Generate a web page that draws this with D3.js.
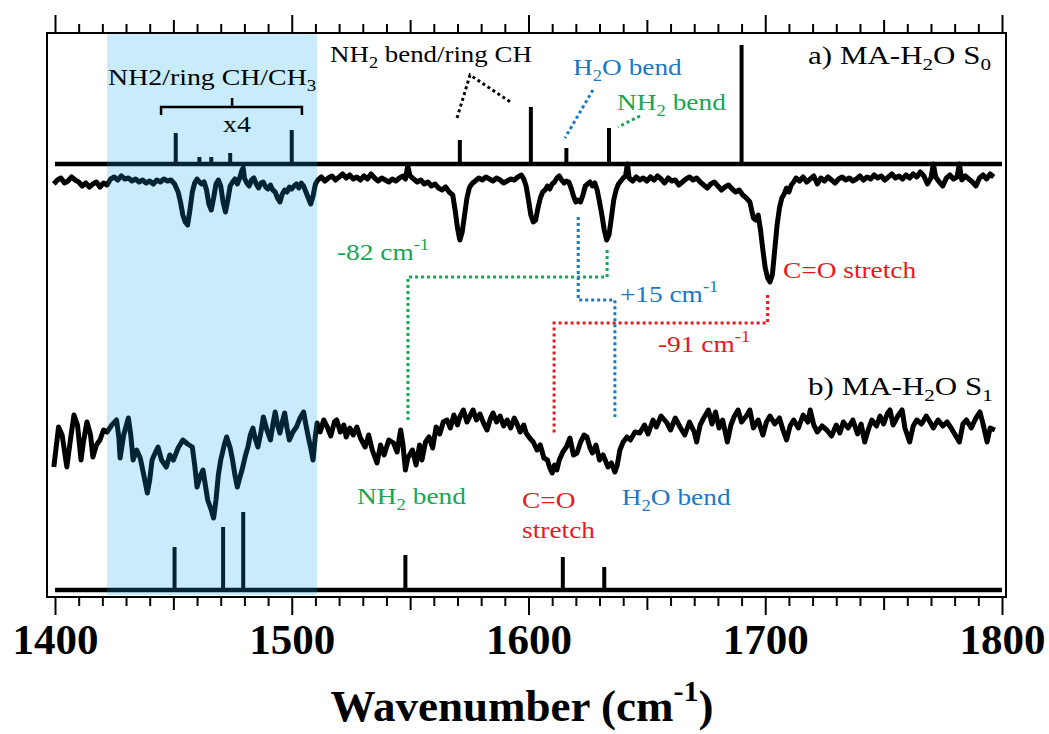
<!DOCTYPE html>
<html>
<head>
<meta charset="utf-8">
<style>
  body { margin: 0; background: #fff; }
  svg { display: block; }
</style>
<script src="https://cdn.jsdelivr.net/npm/d3@7"></script>
</head>
<body>
<div id="chart"></div>
<script>
// wavenumber ticks
var minorTicks = d3.range(1400, 1801, 10);
var tickLabels = [1400, 1500, 1600, 1700, 1800];

// calculated stick spectra [wavenumber, intensity]
var sticksS0 = [[1451,31],[1461,7],[1466,7],[1474,11],[1500,34],[1571,24],[1601,57],[1616,16],[1634,36],[1690,119]];
var sticksS1 = [[1450.5,43],[1457,2],[1471,63],[1479.5,78],[1548,35],[1614.5,33],[1632,23]];

// measured S0 spectrum (relative signal)
var traceS0 = [[1399.5,-4],[1401,0],[1402.5,2],[1404,-3],[1405.5,-1],[1407,3],[1408.5,0],[1410,-2],[1411.5,-6],[1413,-3],[1414.5,-7],[1416,-4],[1417.5,-2],[1419,-7],[1420.5,-3],[1422,-5],[1423.5,1],[1425,3],[1426.5,0],[1428,4],[1429.5,1],[1431,2],[1432.5,-1],[1434,1],[1435.5,-2],[1437,0],[1438.5,-3],[1440,-1],[1441.5,-4],[1443,0],[1444.5,-2],[1446,1],[1447.5,-1],[1449,0],[1450.5,-4],[1452,-12],[1453,-22],[1454,-35],[1455,-42],[1456,-45],[1457,-30],[1458,-12],[1459,-3],[1460,1],[1461,-2],[1462,-4],[1463,-2],[1464,-10],[1465,-24],[1466,-30],[1467,-18],[1468,-4],[1469,0],[1470,-6],[1471,-22],[1472,-32],[1473,-20],[1474,-6],[1475,-2],[1476,1],[1477,-4],[1478,2],[1479,10],[1479.5,12],[1480,2],[1481,-3],[1482,-6],[1483,0],[1484,2],[1485,-4],[1486,-8],[1487,-3],[1488,-2],[1489,-7],[1490,-9],[1491,-5],[1492,-10],[1493,-12],[1494,-18],[1495,-22],[1496,-14],[1497,-10],[1498,-12],[1499,-7],[1500,-9],[1501,-6],[1502,-4],[1503,-8],[1504,-3],[1505,-6],[1506,-12],[1507,-18],[1508,-24],[1509,-16],[1510,-4],[1511,0],[1512.5,3],[1514,-1],[1515.5,2],[1517,4],[1518.5,0],[1520,3],[1521.5,6],[1523,2],[1524.5,5],[1526,1],[1527.5,3],[1529,0],[1530.5,4],[1532,1],[1533.5,6],[1535,2],[1536.5,-1],[1538,2],[1539.5,0],[1541,-2],[1542.5,1],[1544,-1],[1545.5,2],[1547,4],[1548,1],[1549,14],[1550,4],[1551.5,1],[1553,-2],[1554.5,0],[1556,-4],[1557.5,-2],[1559,-6],[1560.5,-4],[1562,-8],[1563.5,-10],[1565,-7],[1566.5,-12],[1568,-15],[1569,-30],[1570,-48],[1571,-60],[1572,-52],[1573,-35],[1574,-18],[1575,-8],[1576,-4],[1577.5,-1],[1579,2],[1580.5,0],[1582,3],[1583.5,1],[1585,-1],[1586.5,2],[1588,0],[1589.5,-3],[1591,-1],[1592.5,1],[1594,0],[1595.5,3],[1597,5],[1598,1],[1599,-6],[1600,-20],[1601,-35],[1602,-42],[1603,-40],[1604,-28],[1605,-18],[1606,-12],[1607,-10],[1608,-6],[1609,-9],[1610,-4],[1611,-2],[1612,2],[1613,4],[1614,0],[1615,-3],[1616,-1],[1617,-2],[1618,-8],[1619,-16],[1620,-22],[1621,-20],[1622,-22],[1623,-15],[1624,-6],[1625,-4],[1626,-2],[1627,-6],[1628,-3],[1629,-10],[1630,-22],[1631,-35],[1632,-50],[1633,-60],[1634,-55],[1635,-38],[1636,-20],[1637,-10],[1638,-4],[1639,-1],[1640,2],[1641,4],[1641.8,16],[1642.5,2],[1644,-1],[1645.5,3],[1647,0],[1648.5,2],[1650,-1],[1651.5,3],[1653,0],[1654.5,4],[1656,1],[1657.5,-3],[1659,2],[1660.5,-1],[1662,0],[1663.5,-5],[1665,-2],[1666.5,1],[1668,3],[1669.5,0],[1671,2],[1672.5,-2],[1674,-5],[1675.5,-8],[1677,-4],[1678.5,-2],[1680,-6],[1681.5,-10],[1683,-7],[1684.5,-5],[1686,-9],[1687.5,-12],[1689,-10],[1690.5,-15],[1692,-18],[1693.5,-22],[1695,-38],[1696,-40],[1697,-35],[1698,-50],[1699,-70],[1700,-88],[1701,-98],[1702,-102],[1703,-95],[1704,-70],[1705,-45],[1706,-28],[1707,-18],[1708,-14],[1709,-8],[1710,-12],[1711,-5],[1712,-2],[1713,2],[1714.5,-1],[1716,3],[1717.5,-2],[1719,1],[1720.5,4],[1722,-4],[1723.5,2],[1725,-1],[1726.5,3],[1728,0],[1729.5,-3],[1731,1],[1732.5,3],[1734,0],[1735.5,2],[1737,-1],[1738.5,1],[1740,4],[1741.5,0],[1743,3],[1744.5,1],[1746,5],[1747.5,2],[1749,4],[1750.5,0],[1752,3],[1753.5,6],[1755,2],[1756.5,4],[1758,1],[1759.5,5],[1761,2],[1762.5,6],[1764,3],[1765.5,8],[1767,4],[1768.5,-4],[1770,2],[1771,16],[1772,3],[1773.5,-2],[1775,-6],[1776.5,2],[1778,5],[1779.5,1],[1781,3],[1782,16],[1783,0],[1784.5,4],[1786,1],[1787.5,-2],[1789,-6],[1790.5,2],[1792,5],[1793.5,1],[1795,6],[1796.5,3]];

// measured S1 spectrum (relative signal)
var traceS1 = [[1399.5,-37],[1401.5,3],[1403,-5],[1405,-37],[1406.5,-10],[1408,15],[1409.5,5],[1411,-30],[1412,-12],[1413.5,8],[1415,-5],[1416,-27],[1417.5,-15],[1419,-10],[1420.5,0],[1422,-2],[1424,5],[1426,10],[1427,-8],[1427.5,-28],[1429,-5],[1431,12],[1432,-5],[1433,-30],[1434.5,-20],[1436,-28],[1437.5,-45],[1439,-63],[1440,-50],[1441,-30],[1442.5,-22],[1443.5,-17],[1445,-30],[1447,-37],[1448.5,-25],[1450,-30],[1452,-18],[1454,-10],[1456,-14],[1458,-17],[1459,-35],[1460,-57],[1461.5,-45],[1462.5,-40],[1463.5,-55],[1464.5,-70],[1466,-80],[1467,-88],[1468,-70],[1469,-45],[1470,-30],[1471.5,-15],[1472.5,-7],[1474,-18],[1475,-30],[1476,-45],[1477,-57],[1478,-48],[1479,-40],[1480.5,-25],[1481.5,-17],[1482.5,-5],[1483.6,2],[1484.5,-8],[1485.7,-17],[1487,-2],[1488,13],[1489.5,0],[1491,-10],[1492,5],[1493,18],[1494,5],[1495,-3],[1496,8],[1497,17],[1498,2],[1499,-10],[1500.5,-2],[1502,3],[1503.5,12],[1505,18],[1506,5],[1507,-7],[1508,-18],[1509,-30],[1510,-5],[1510.7,7],[1512,-2],[1513.5,10],[1515,3],[1516.5,-6],[1518,8],[1519,10],[1520.5,-2],[1522,5],[1523,-7],[1524.5,2],[1526,-5],[1527.5,3],[1529,-8],[1531,-17],[1532.5,-5],[1534,-20],[1536,-33],[1537.5,-15],[1539,-25],[1541,-10],[1543,-13],[1544.5,-22],[1546,0],[1547,-15],[1548,-40],[1549,-28],[1551,-20],[1552.5,-35],[1554,-15],[1555,-30],[1556.5,-12],[1558,-7],[1559.5,-18],[1561,3],[1562.5,-4],[1564,8],[1565.6,10],[1567,2],[1568.5,15],[1570,5],[1571,13],[1572.5,20],[1574,8],[1575.5,15],[1576.6,20],[1578,10],[1579.5,16],[1581,7],[1582.5,0],[1584,12],[1585,17],[1586.5,8],[1588,14],[1589.5,4],[1591,10],[1592.5,2],[1594,12],[1595,7],[1596.5,-2],[1598,5],[1599,-3],[1600.5,-8],[1602,-12],[1603.6,-20],[1605,-15],[1606.5,-28],[1608,-30],[1609,-38],[1610,-43],[1611,-35],[1612,-40],[1613,-30],[1614.5,-22],[1616,-17],[1617.5,-8],[1619,-25],[1620.5,-23],[1622,-12],[1623.5,-5],[1624.7,-7],[1626,-18],[1627,-23],[1628.5,-15],[1630,-30],[1631.5,-25],[1633.6,-37],[1635,-33],[1636.5,-42],[1637.5,-35],[1638.6,-20],[1640,-12],[1641.6,-7],[1643,-10],[1645,-2],[1647,-3],[1649,5],[1650.5,-4],[1652.6,10],[1654,3],[1656,14],[1658.5,7],[1660,0],[1662,12],[1664,3],[1666,-5],[1668,8],[1670,-2],[1671,-12],[1672.5,5],[1674,12],[1676,20],[1677.5,6],[1679,18],[1680.5,2],[1682,10],[1684,-12],[1685.5,5],[1687,14],[1688.5,20],[1690,8],[1692,14],[1693.5,20],[1695,2],[1697,10],[1699,-5],[1700.5,8],[1702,14],[1704,6],[1706,12],[1707.5,0],[1709,-10],[1710.5,4],[1712,10],[1714,2],[1716,15],[1718,8],[1719,20],[1720.5,5],[1722,-2],[1724,4],[1726,0],[1728,-6],[1730,5],[1731.5,-3],[1733,8],[1735,2],[1737,10],[1739,-4],[1740.5,6],[1742,-12],[1743.5,0],[1745,10],[1747,4],[1748.5,14],[1750,6],[1751.5,16],[1752.7,20],[1754,5],[1756,14],[1757.8,20],[1759,2],[1761,-12],[1762.5,4],[1764,10],[1766,6],[1768,14],[1769.6,8],[1771,2],[1773,10],[1775,4],[1776.8,8],[1778.5,2],[1780,-4],[1782,-12],[1783.5,6],[1785,10],[1787,2],[1789,12],[1790.7,18],[1792,6],[1793.7,-12],[1795,2],[1797,0]];

// vertical offsets of each stacked spectrum
var offsetSticksS0 = 433, offsetTraceS0 = 417, offsetTraceS1 = 167, offsetSticksS1 = 7;

// highlighted region
var bandRange = [1422, 1510.7];

var W = 1049, H = 734;
var serif = "'Liberation Serif', 'Times New Roman', serif";
var green = "#17a653", blue = "#1b78c4", red = "#e8191f";

var svg = d3.select("#chart").append("svg")
    .attr("width", W)
    .attr("height", H);

var x = d3.scaleLinear().domain([1400, 1800]).range([55, 1002]);
var y = d3.scaleLinear().domain([0, 564]).range([597, 33]);

var line = d3.line()
    .x(function(d) { return x(d[0]); });

// stick spectra
function drawSticks(data, off) {
  svg.append("line")
      .attr("x1", x(1400)).attr("x2", x(1800))
      .attr("y1", y(off)).attr("y2", y(off))
      .attr("stroke", "#000").attr("stroke-width", 4.5);
  svg.append("g").selectAll("line")
    .data(data)
    .enter().append("line")
      .attr("x1", function(d) { return x(d[0]); })
      .attr("x2", function(d) { return x(d[0]); })
      .attr("y1", y(off))
      .attr("y2", function(d) { return y(off + d[1]); })
      .attr("stroke", "#000")
      .attr("stroke-width", 4);
}
drawSticks(sticksS0, offsetSticksS0);
drawSticks(sticksS1, offsetSticksS1);

// measured traces
function drawTrace(data, off) {
  svg.append("path")
      .datum(data)
      .attr("fill", "none")
      .attr("stroke", "#000")
      .attr("stroke-width", 5)
      .attr("stroke-linejoin", "round")
      .attr("d", line.y(function(d) { return y(off + d[1]); }));
}
drawTrace(traceS0, offsetTraceS0);
drawTrace(traceS1, offsetTraceS1);

// translucent highlight band
svg.append("rect")
    .attr("x", x(bandRange[0]))
    .attr("width", x(bandRange[1]) - x(bandRange[0]))
    .attr("y", y(563))
    .attr("height", y(2) - y(563))
    .attr("fill", "#05a8e8")
    .attr("opacity", 0.22);

// frame
svg.append("rect")
    .attr("x", 47).attr("y", 33)
    .attr("width", 959).attr("height", 564)
    .attr("fill", "none")
    .attr("stroke", "#000")
    .attr("stroke-width", 2);

function tickLen(d) { return d % 100 === 0 ? 18 : (d % 50 === 0 ? 13 : 9); }

var topAxis = svg.append("g")
    .attr("transform", "translate(0,33)")
    .call(d3.axisTop(x).tickValues(minorTicks).tickFormat("").tickSizeOuter(0));
topAxis.select(".domain").remove();
topAxis.selectAll(".tick line")
    .attr("y2", function(d) { return -tickLen(d); })
    .attr("stroke-width", 2);

var bottomAxis = svg.append("g")
    .attr("transform", "translate(0,597)")
    .call(d3.axisBottom(x).tickValues(minorTicks)
      .tickFormat(function(d) { return tickLabels.indexOf(d) >= 0 ? d : ""; })
      .tickSizeOuter(0));
bottomAxis.select(".domain").remove();
bottomAxis.selectAll(".tick line")
    .attr("y2", function(d) { return tickLen(d); })
    .attr("stroke-width", 2);
bottomAxis.selectAll(".tick text")
    .attr("y", 57)
    .attr("dy", null)
    .attr("fill", "#000")
    .style("font-family", serif)
    .style("font-weight", "bold")
    .style("font-size", "43px");

// axis title
var title = svg.append("text")
    .attr("x", 522).attr("y", 721)
    .attr("text-anchor", "middle")
    .style("font-family", serif)
    .style("font-weight", "bold")
    .style("font-size", "45px");
title.append("tspan").text("Wavenumber (cm");
title.append("tspan").text("-1").attr("dy", -20).style("font-size", "30px");
title.append("tspan").text(")").attr("dy", 20);

// labels: parts are strings or [string, "sub"|"sup"]
function addLabel(wn, v, parts, color, size, sx) {
  var t = svg.append("text")
      .attr("transform", "translate(" + x(wn) + "," + y(v) + ") scale(" + sx + ",1)")
      .attr("fill", color)
      .style("font-family", serif)
      .style("font-size", size + "px");
  var shift = 0;
  parts.forEach(function(p) {
    var str = typeof p === "string" ? p : p[0];
    var kind = typeof p === "string" ? null : p[1];
    var target = kind === "sub" ? size * 0.25 : (kind === "sup" ? -size * 0.4 : 0);
    var ts = t.append("tspan").text(str).attr("dy", target - shift);
    if (kind) ts.style("font-size", (size * 0.68) + "px");
    shift = target;
  });
}

addLabel(1718.1, 533, ["a) MA-H", ["2", "sub"], "O S", ["0", "sub"]], "#000", 25, 1.24);
addLabel(1718.1, 202, ["b) MA-H", ["2", "sub"], "O S", ["1", "sub"]], "#000", 25, 1.24);
addLabel(1422.4, 512, ["NH2/ring CH/CH", ["3", "sub"]], "#000", 24, 1.16);
addLabel(1471, 465, ["x4"], "#000", 24, 1.16);
addLabel(1516.2, 535, ["NH", ["2", "sub"], " bend/ring CH"], "#000", 24, 1.12);
addLabel(1618.8, 522, ["H", ["2", "sub"], "O bend"], blue, 24, 1.14);
addLabel(1637.4, 487, ["NH", ["2", "sub"], " bend"], green, 24, 1.14);
addLabel(1519.1, 337, ["-82 cm", ["-1", "sup"]], green, 24, 1.14);
addLabel(1638.6, 295, ["+15 cm", ["-1", "sup"]], blue, 24, 1.14);
addLabel(1654.7, 245, ["-91 cm", ["-1", "sup"]], red, 24, 1.14);
addLabel(1707.5, 319, ["C=O stretch"], red, 24, 1.14);
addLabel(1527.6, 93, ["NH", ["2", "sub"], " bend"], green, 24, 1.14);
addLabel(1597.3, 89, ["C=O"], red, 24, 1.14);
addLabel(1597.3, 59, ["stretch"], red, 24, 1.14);
addLabel(1639.4, 92, ["H", ["2", "sub"], "O bend"], blue, 24, 1.14);

// dotted connectors [wavenumber, level]
var connectors = [
  {color: "#000", pts: [[1569.8, 479], [1575.3, 522], [1593, 494]]},
  {color: blue, pts: [[1627.2, 507], [1615.4, 459]]},
  {color: green, pts: [[1647.1, 481], [1637.8, 470]]},
  {color: green, pts: [[1633.2, 347], [1633.2, 320], [1549.1, 320], [1549.1, 175]]},
  {color: blue, pts: [[1621, 380], [1621, 297], [1636.5, 297], [1636.5, 180]]},
  {color: red, pts: [[1701, 302], [1701, 274], [1610.8, 274], [1610.8, 162]]}
];
var cline = d3.line()
    .x(function(d) { return x(d[0]); })
    .y(function(d) { return y(d[1]); });
svg.append("g").selectAll("path")
  .data(connectors)
  .enter().append("path")
    .attr("d", function(d) { return cline(d.pts); })
    .attr("fill", "none")
    .attr("stroke", function(d) { return d.color; })
    .attr("stroke-width", 3)
    .attr("stroke-dasharray", "3,3");

// bracket over the x4 group
var bracket = [[1444.8, 482], [1444.8, 490], [1504.3, 490], [1504.3, 482]];
svg.append("path")
    .attr("d", cline(bracket))
    .attr("fill", "none")
    .attr("stroke", "#000")
    .attr("stroke-width", 2.5);
svg.append("path")
    .attr("d", cline([[1474.8, 490], [1474.8, 499]]))
    .attr("stroke", "#000")
    .attr("stroke-width", 2.5);
</script>
</body>
</html>
